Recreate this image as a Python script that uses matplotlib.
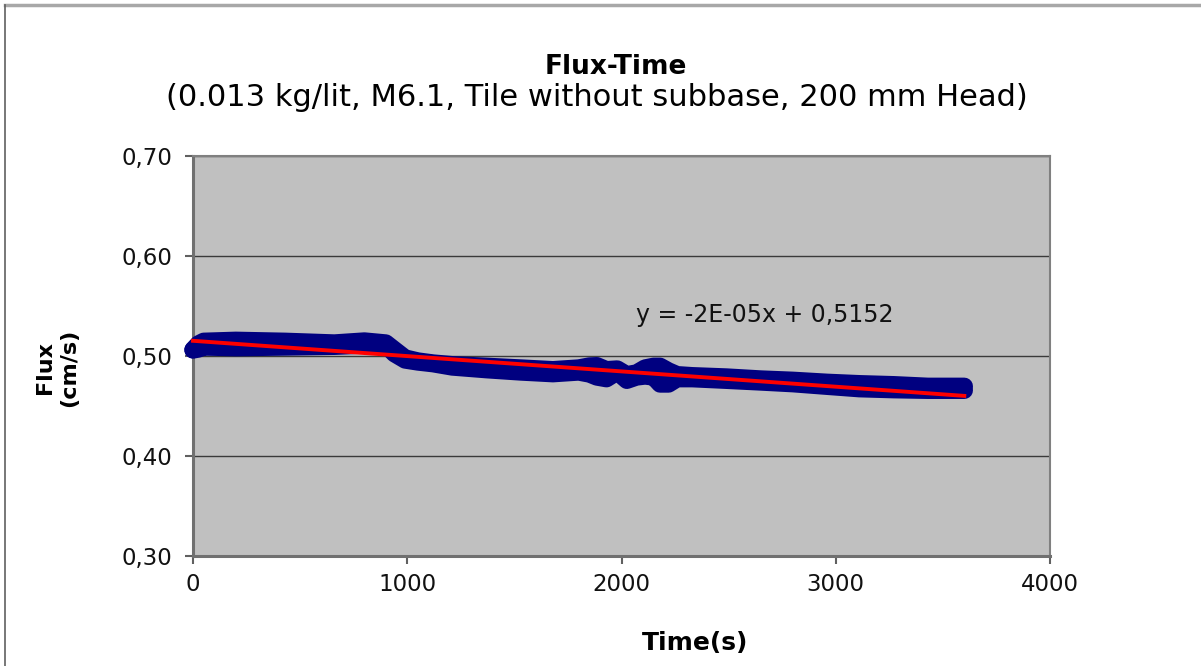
import matplotlib
matplotlib.use("Agg")
import matplotlib.pyplot as plt
from matplotlib.lines import Line2D
from matplotlib.ticker import FuncFormatter
import numpy as np

# ---- data ----
# time (s) and the upper / lower envelope of the plotted flux points (cm/s)
time_s = [0, 25, 50, 200, 430, 660, 800, 900, 940, 990, 1050, 1120, 1210, 1370,
          1530, 1680, 1800, 1850, 1885, 1930, 1980, 2025, 2070, 2110, 2150, 2180,
          2220, 2260, 2330, 2490, 2650, 2800, 2960, 3110, 3270, 3430, 3600]
flux_hi = [0.5063, 0.512, 0.5147, 0.5157, 0.5147, 0.513, 0.515, 0.513, 0.5063, 0.498,
           0.495, 0.493, 0.4913, 0.4897, 0.488, 0.4863, 0.488, 0.490, 0.4903, 0.4863,
           0.487, 0.4813, 0.483, 0.488, 0.4897, 0.4897, 0.485, 0.4813, 0.4803, 0.479,
           0.477, 0.4757, 0.4737, 0.4723, 0.4713, 0.4697, 0.4697]
flux_lo = [0.506, 0.507, 0.509, 0.5083, 0.509, 0.5097, 0.511, 0.511, 0.5023, 0.496,
           0.494, 0.4923, 0.489, 0.4863, 0.484, 0.4823, 0.484, 0.482, 0.479, 0.4773,
           0.484, 0.4757, 0.479, 0.480, 0.479, 0.472, 0.472, 0.4773, 0.4773, 0.4757,
           0.474, 0.4723, 0.4697, 0.4673, 0.4663, 0.4657, 0.4657]

# linear trend line (as drawn)
trend_slope = -1.53e-5
trend_intercept = 0.5152
trend_label = "y = -2E-05x + 0,5152"

title = "Flux-Time"
subtitle = "(0.013 kg/lit, M6.1, Tile without subbase, 200 mm Head)"
x_label = "Time(s)"
y_label = "Flux\n(cm/s)"
x_ticks = [0, 1000, 2000, 3000, 4000]
y_ticks = [0.30, 0.40, 0.50, 0.60, 0.70]

# ---- figure ----
plt.rcParams['font.family'] = ['DejaVu Sans']
W, H = 1201, 666
fig = plt.figure(figsize=(W / 100, H / 100), dpi=100)
fig.patch.set_facecolor('white')

ax = fig.add_axes([193 / W, 1 - 556 / H, (1050 - 193) / W, (556 - 156) / H])
ax.set_facecolor('#C0C0C0')
ax.set_xlim(0, 4000)
ax.set_ylim(0.30, 0.70)

navy = '#000080'
t = np.array(time_s)
hi = np.array(flux_hi)
lo = np.array(flux_lo)
ax.fill_between(t, lo, hi, color=navy, lw=0, zorder=3)
for env in (hi, lo):
    ax.plot(t, env, color=navy, lw=12.5, solid_capstyle='round',
            solid_joinstyle='round', zorder=3, clip_on=False)

tt = np.array([t.min(), t.max()])
ax.plot(tt, trend_intercept + trend_slope * tt, color='#FF0000', lw=2.8, zorder=4,
        clip_on=False)

ax.text(2670, 0.541, trend_label, ha='center', va='center', fontsize=17, color='#111111')

ax.set_xticks(x_ticks)
ax.set_yticks(y_ticks)
ax.yaxis.set_major_formatter(FuncFormatter(lambda v, p: f"{v:.2f}".replace('.', ',')))
ax.tick_params(axis='both', direction='out', length=6, width=1.5, color='#606060',
               labelsize=16.5, labelcolor='#111111')
ax.tick_params(axis='y', pad=9)
ax.tick_params(axis='x', pad=6)
ax.grid(axis='y', color='#3a3a3a', lw=1.0)
ax.set_axisbelow(True)
for side in ['top', 'right']:
    ax.spines[side].set_color('#808080')
    ax.spines[side].set_linewidth(1.5)
for side in ['left', 'bottom']:
    ax.spines[side].set_color('#707070')
    ax.spines[side].set_linewidth(2.2)

fig.text(616 / W, 1 - 67 / H, title, ha='center', va='center', fontsize=19, fontweight='bold')
fig.text(597 / W, 1 - 97 / H, subtitle, ha='center', va='center', fontsize=22)
fig.text(695 / W, 1 - 643 / H, x_label, ha='center', va='center', fontsize=18, fontweight='bold')
fig.text(57 / W, 1 - 368 / H, y_label, ha='center', va='center', fontsize=16,
         fontweight='bold', rotation=90, multialignment='center', linespacing=1.3)

# outer chart border (top and left visible)
fig.add_artist(Line2D([5 / W, 1], [1 - 5 / H, 1 - 5 / H], transform=fig.transFigure,
                      color='#A8A8A8', lw=2.5))
fig.add_artist(Line2D([5 / W, 5 / W], [0, 1 - 5 / H], transform=fig.transFigure,
                      color='#606060', lw=1.2))

fig.savefig('out.png', dpi=100)
